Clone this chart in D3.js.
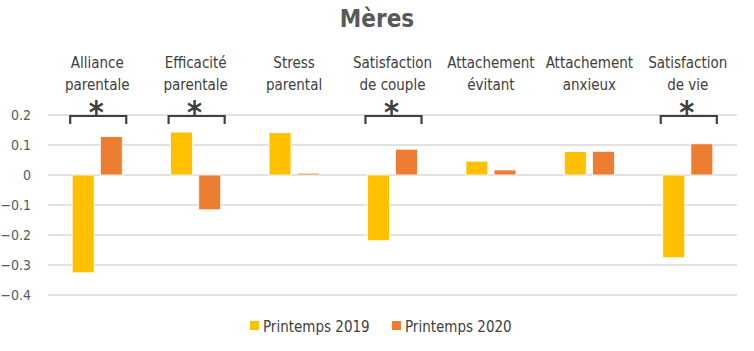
<!DOCTYPE html>
<html>
<head>
<meta charset="utf-8">
<script src="https://cdn.jsdelivr.net/npm/d3@7"></script>
<style>
  body { margin: 0; background: #fff; }
  text { font-family: "Liberation Sans Narrow", "DejaVu Sans Condensed", sans-serif; }
</style>
</head>
<body>
<div id="chart"></div>
<script>
/**
 * Data
 */
const categories = [
  ["Alliance", "parentale"],
  ["Efficacité", "parentale"],
  ["Stress", "parental"],
  ["Satisfaction", "de couple"],
  ["Attachement", "évitant"],
  ["Attachement", "anxieux"],
  ["Satisfaction", "de vie"]
];
const seriesNames = ["Printemps 2019", "Printemps 2020"];
const spring2019 = [-0.326, 0.143, 0.141, -0.219, 0.046, 0.078, -0.276];
const spring2020 = [0.128, -0.116, 0.006, 0.086, 0.017, 0.079, 0.104];
const significant = [true, true, false, true, false, false, true];
const yTicks = [0.2, 0.1, 0, -0.1, -0.2, -0.3, -0.4];

const colors = ["#FFC000", "#ED7D31"];

const width = 754;
const height = 351;
const margin = { top: 115, right: 17, bottom: 56, left: 48 };

const svg = d3.select("#chart")
  .append("svg")
  .attr("width", width)
  .attr("height", height);

/**
 * Scales
 */
const xScale = d3.scaleBand()
  .domain(d3.range(categories.length))
  .range([margin.left, width - margin.right]);

const xInner = d3.scaleBand()
  .domain([0, 1])
  .range([0, xScale.bandwidth()])
  .paddingInner(0.22)
  .paddingOuter(0.86);

const yScale = d3.scaleLinear()
  .domain([-0.4, 0.2])
  .range([height - margin.bottom, margin.top]);

/**
 * Gridlines + y axis labels
 */
svg.append("g")
  .selectAll("line")
  .data(yTicks)
  .enter()
  .append("line")
  .attr("x1", margin.left)
  .attr("x2", width - margin.right)
  .attr("y1", d => yScale(d))
  .attr("y2", d => yScale(d))
  .attr("stroke", "#d9d9d9")
  .attr("stroke-width", 1.3);

svg.append("g")
  .selectAll("text")
  .data(yTicks)
  .enter()
  .append("text")
  .attr("x", 31)
  .attr("y", d => yScale(d))
  .attr("dy", "0.35em")
  .attr("text-anchor", "end")
  .attr("font-size", 14)
  .attr("fill", "#595959")
  .text(d => d3.format("")(d));

/**
 * Bars
 */
const tableData = [];
categories.forEach((c, i) => {
  tableData.push({ cat: i, s: 0, v: spring2019[i] });
  tableData.push({ cat: i, s: 1, v: spring2020[i] });
});

svg.append("g")
  .selectAll("rect")
  .data(tableData)
  .enter()
  .append("rect")
  .attr("x", d => xScale(d.cat) + xInner(d.s))
  .attr("width", xInner.bandwidth())
  .attr("y", d => yScale(Math.max(0, d.v)))
  .attr("height", d => Math.abs(yScale(d.v) - yScale(0)))
  .attr("fill", d => colors[d.s])
  .attr("stroke", "#fff")
  .attr("stroke-width", 0.8);

/**
 * Category labels (top)
 */
const catLabels = svg.append("g")
  .selectAll("text")
  .data(categories)
  .enter()
  .append("text")
  .attr("x", (d, i) => xScale(i) + xScale.bandwidth() / 2)
  .attr("y", 68)
  .attr("text-anchor", "middle")
  .attr("font-size", 15)
  .attr("fill", "#404040");

catLabels.append("tspan")
  .attr("x", (d, i) => xScale(i) + xScale.bandwidth() / 2)
  .text(d => d[0]);
catLabels.append("tspan")
  .attr("x", (d, i) => xScale(i) + xScale.bandwidth() / 2)
  .attr("dy", 22)
  .text(d => d[1]);

/**
 * Significance brackets
 */
const sig = d3.range(categories.length).filter(i => significant[i]);
const brackets = svg.append("g");

brackets.selectAll("path")
  .data(sig)
  .enter()
  .append("path")
  .attr("d", i => {
    const x0 = xScale(i) + xInner(0) - 2;
    const x1 = xScale(i) + xInner(1) + xInner.bandwidth() + 4;
    const yTop = yScale(0.2) + 1;
    return "M" + x0 + "," + (yTop + 8) + "V" + yTop + "H" + x1 + "V" + (yTop + 8);
  })
  .attr("fill", "none")
  .attr("stroke", "#404040")
  .attr("stroke-width", 2.2);

brackets.selectAll("text")
  .data(sig)
  .enter()
  .append("text")
  .attr("x", i => xScale(i) + xScale.bandwidth() / 2 - 1)
  .attr("y", 123)
  .attr("text-anchor", "middle")
  .attr("font-family", "DejaVu Sans")
  .attr("font-weight", "bold")
  .attr("font-size", 32)
  .attr("fill", "#404040")
  .text("*");

/**
 * Title
 */
svg.append("text")
  .attr("x", width / 2)
  .attr("y", 27)
  .attr("text-anchor", "middle")
  .attr("font-size", 24)
  .attr("font-weight", "bold")
  .attr("fill", "#595959")
  .text("Mères");

/**
 * Legend
 */
const legend = svg.append("g")
  .selectAll("g")
  .data(seriesNames)
  .enter()
  .append("g")
  .attr("transform", (d, i) => "translate(" + (250 + i * 142) + "," + 327 + ")");

legend.append("rect")
  .attr("x", 0)
  .attr("y", -6)
  .attr("width", 9)
  .attr("height", 9)
  .attr("fill", (d, i) => colors[i]);

legend.append("text")
  .attr("x", 13)
  .attr("y", 0)
  .attr("dy", "0.35em")
  .attr("font-size", 15)
  .attr("fill", "#404040")
  .text(d => d);
</script>
</body>
</html>
